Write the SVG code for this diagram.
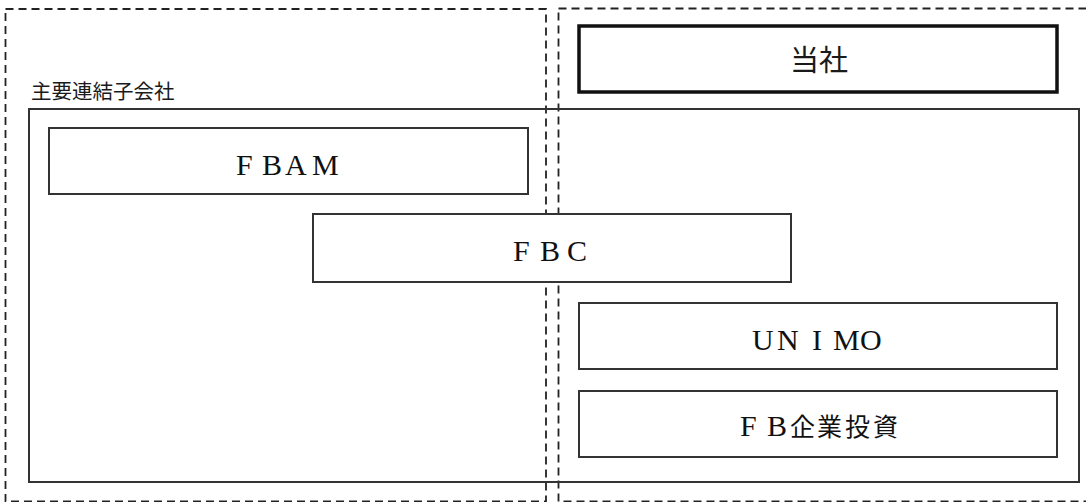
<svg xmlns="http://www.w3.org/2000/svg" width="1086" height="502" viewBox="0 0 1086 502">
<style>
.dash{fill:none;stroke:#222;stroke-width:1.8;stroke-dasharray:8 5}
.box{fill:#fff;stroke:#333;stroke-width:2}
.lat{font-family:"Liberation Serif","Noto Sans CJK JP",serif;font-size:30px;fill:#111}
.cjk{font-family:"Noto Sans CJK JP",sans-serif;fill:#1a1a1a}
</style>
<rect width="1086" height="502" fill="#fff"/>
<g id="regions">
<rect class="dash" x="5.5" y="9" width="540.5" height="492.5"/>
<rect class="dash" x="558.5" y="8.5" width="540" height="493"/>
</g>
<g id="group-frame">
<rect x="29" y="109" width="1050" height="373" fill="none" stroke="#333" stroke-width="2"/>
<text x="31" y="98.5" class="cjk" font-size="20.5" fill="#333">主要連結子会社</text>
</g>
<g id="node-tousha">
<rect x="579" y="26" width="478" height="66" fill="#fff" stroke="#111" stroke-width="3.5"/>
<text x="819" y="70.5" class="cjk" font-size="29" text-anchor="middle">当社</text>
</g>
<g id="node-fbam">
<rect class="box" x="49" y="128" width="479" height="66"/>
<text class="lat" x="236 262 285 312" y="175">FBAM</text>
</g>
<g id="node-fbc">
<rect class="box" x="313" y="214" width="478" height="68"/>
<text class="lat" x="513 540 567" y="261">FBC</text>
</g>
<g id="node-unimo">
<rect class="box" x="579" y="303" width="478" height="66"/>
<text class="lat" x="752 777 812 833 860" y="350">UNIMO</text>
</g>
<g id="node-fbki">
<rect class="box" x="579" y="391" width="478" height="66"/>
<text class="lat" x="740 767 790 817 845 873" y="436"><tspan>FB</tspan><tspan font-family="Noto Sans CJK JP, sans-serif" font-size="25">企業投資</tspan></text>
</g>
<g id="connectors"></g>
</svg>
